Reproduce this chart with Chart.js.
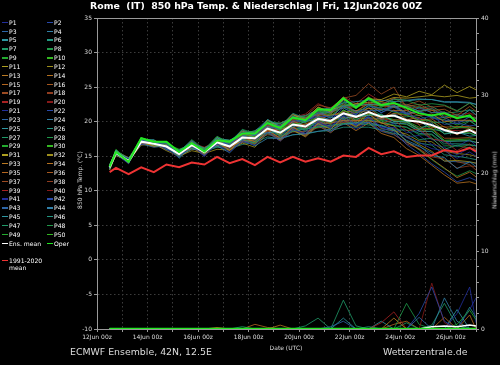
<!DOCTYPE html>
<html><head><meta charset="utf-8">
<script src="https://cdn.jsdelivr.net/npm/chart.js@4.4.1/dist/chart.umd.min.js"></script>
<style>
html,body{margin:0;padding:0;background:#000;}
#wrap{position:relative;width:500px;height:365px;overflow:hidden;background:#000;font-family:"DejaVu Sans",sans-serif;color:#fff;}
canvas{position:absolute;left:0;top:0;}
.t{position:absolute;white-space:pre;}
.lg{position:absolute;font-size:6.1px;line-height:7px;color:#fff;white-space:pre;padding-left:7px;}
.sw{position:absolute;left:0;top:3px;width:6px;height:1.4px;}
.rot{position:absolute;white-space:pre;transform:translate(-50%,-50%) rotate(-90deg);font-size:6px;color:#ddd;}
</style></head>
<body><div id="wrap">
<canvas id="c" width="500" height="365"></canvas>
<div class="t" style="left:0;top:0px;width:512px;text-align:center;font-weight:bold;font-size:9.4px;color:#fff;">Rome  (IT)  850 hPa Temp. &amp; Niederschlag | Fri, 12Jun2026 00Z</div>
<div class="rot" style="left:79px;top:180px;">850 hPa Temp. (°C)</div>
<div class="rot" style="left:494px;top:180px;">Niederschlag (mm)</div>
<div class="t" style="left:286px;top:347px;transform:translate(-50%,-50%);font-size:6px;color:#ddd;">Date (UTC)</div>
<div class="t" style="left:70px;top:346px;font-size:9.4px;color:#ddd;">ECMWF Ensemble, 42N, 12.5E</div>
<div class="t" style="left:383px;top:346px;font-size:9.4px;color:#ddd;">Wetterzentrale.de</div>
<div id="legend"></div>
</div>
<script>
// ---- time axis (hours after 12Jun2026 00Z) ----
const TIMES = [12,18,30,42,54,66,78,90,102,114,126,138,150,162,174,186,198,210,222,234,246,258,270,282,294,306,318,330,342,354,360];

// ---- 850 hPa temperature (°C) ----
const MEAN = [13.4,15.5,14.3,17.1,16.8,16.4,15.3,16.6,15.6,17.0,16.4,17.7,17.6,19.0,18.4,19.6,19.3,20.4,20.1,21.2,20.7,21.4,20.7,20.9,20.2,20.0,19.5,18.8,18.3,18.8,18.3];
const OPER = [13.5,15.6,14.2,17.6,17.1,17.1,15.6,16.9,15.7,17.3,17.1,18.3,18.3,19.8,19.1,20.6,20.2,21.8,21.7,23.4,22.0,23.4,22.4,22.7,22.0,21.2,20.9,21.2,20.5,20.9,20.0];
const CLIM = [12.7,13.3,12.4,13.4,12.7,13.8,13.4,14.1,13.8,14.9,14.0,14.6,13.7,14.9,14.1,14.9,14.2,14.7,14.2,15.1,14.9,16.2,15.3,15.7,14.9,15.1,15.1,15.9,15.6,16.2,15.7];

const P1 = [13.6,15.4,14.6,16.7,17.0,16.1,14.8,16.7,15.0,16.8,15.6,17.2,16.6,18.4,17.2,18.8,18.3,19.9,19.2,20.8,19.6,20.6,19.2,19.1,17.7,17.0,16.1,15.8,14.7,15.6,15.0];
const P2 = [13.3,15.7,14.1,17.4,16.8,16.8,15.5,16.3,15.9,17.5,16.6,18.5,18.0,19.6,19.4,20.1,20.2,20.7,20.8,21.0,21.1,22.3,21.9,21.5,21.2,20.4,20.8,19.6,19.8,19.4,19.5];
const P3 = [13.7,15.3,14.4,17.6,17.1,16.2,15.7,17.2,15.8,16.7,16.9,17.9,18.5,19.3,18.9,20.8,19.9,21.3,20.5,22.3,21.5,21.6,21.6,22.4,21.3,22.0,21.3,21.4,20.5,21.7,21.0];
const P4 = [13.2,15.6,14.7,16.8,16.3,16.5,15.1,16.0,15.9,16.5,15.5,17.3,16.5,17.6,17.6,18.1,18.3,18.6,18.9,19.6,19.8,19.9,19.4,18.7,17.3,16.5,15.1,14.8,13.2,14.2,13.5];
const P5 = [13.5,15.9,14.0,17.3,17.4,16.0,15.8,16.9,15.4,17.7,16.5,17.4,18.1,18.4,18.6,19.2,20.1,20.2,20.6,20.5,20.8,20.9,21.1,20.0,20.0,18.9,19.8,18.2,18.5,17.9,18.0];
const P6 = [13.1,15.5,14.5,17.0,17.1,16.9,14.9,16.8,16.2,17.0,17.1,18.8,18.1,20.3,19.3,21.2,20.5,21.2,21.6,22.2,22.4,22.5,22.5,22.2,22.3,21.5,21.9,20.7,21.0,20.6,20.5];
const P7 = [13.8,15.2,14.3,17.4,16.6,16.6,15.9,16.2,15.7,16.4,16.7,17.5,16.9,19.1,17.9,18.6,19.0,19.2,19.5,19.7,19.9,19.5,19.5,18.8,18.8,17.4,17.6,16.0,16.6,16.6,16.5];
const P8 = [13.4,15.8,14.7,17.2,17.3,16.4,15.6,17.4,16.0,17.9,16.9,18.9,18.3,20.0,19.8,20.5,20.8,21.5,21.9,22.4,22.3,23.4,22.2,23.2,23.1,22.4,22.6,22.4,21.6,22.7,22.0];
const P9 = [13.6,16.0,14.2,17.5,16.9,17.0,15.3,17.1,15.8,17.8,16.8,18.3,18.6,19.7,18.7,20.5,19.8,21.6,20.9,22.2,21.3,22.3,22.0,21.4,21.0,20.2,20.1,18.8,19.2,19.1,19.0];
const P10 = [13.3,15.6,14.6,17.7,17.0,16.8,16.0,16.7,16.1,17.3,17.3,18.1,17.8,19.8,18.9,19.6,19.9,20.7,19.9,21.7,20.7,21.0,21.0,20.1,19.9,18.8,18.9,17.3,17.4,17.5,17.5];
const P11 = [13.7,15.5,14.1,17.3,16.5,16.7,15.4,16.4,16.0,17.0,17.0,18.6,18.0,20.2,19.2,21.0,20.3,22.1,21.4,23.2,22.3,23.3,23.2,24.0,23.6,24.4,23.9,25.3,24.2,25.1,24.6];
const P12 = [13.0,15.3,14.4,16.6,16.8,15.8,15.0,15.8,15.4,16.0,15.9,16.9,16.3,18.4,17.3,18.7,17.9,19.7,18.9,20.7,19.7,21.1,19.8,19.4,17.8,16.7,15.7,14.3,14.4,14.2,14.0];
const P13 = [13.5,15.1,14.5,16.9,17.2,16.3,15.6,16.1,15.6,16.7,16.6,17.1,17.4,19.3,18.0,20.1,19.2,20.8,20.9,21.4,21.6,21.9,21.8,21.6,21.6,20.9,21.1,20.0,20.2,20.2,20.0];
const P14 = [13.2,15.8,14.2,17.1,16.4,16.6,15.2,17.0,15.3,17.2,15.8,17.8,17.1,18.8,17.6,19.2,18.2,19.8,19.8,20.2,20.2,20.1,19.9,18.9,17.1,16.0,14.6,13.3,11.9,12.7,12.0];
const P15 = [13.4,15.7,14.8,16.8,17.1,17.1,15.5,16.6,16.0,16.6,16.7,18.4,17.7,18.7,19.0,19.1,19.7,20.2,21.0,21.1,21.3,21.6,20.4,21.7,20.3,20.6,19.1,19.3,18.1,19.1,18.5];
const P16 = [13.1,15.4,14.6,17.3,16.6,16.4,15.8,16.9,15.5,17.6,16.6,18.1,18.5,19.5,19.5,20.3,20.6,21.0,21.1,22.6,21.5,22.6,22.4,22.2,22.2,22.5,21.6,21.8,20.9,22.2,21.5];
const P17 = [13.6,15.6,14.0,17.2,16.6,16.7,14.9,16.5,15.8,16.5,16.4,17.3,17.9,19.5,19.0,20.6,20.8,22.4,22.0,23.4,23.8,25.5,24.0,25.0,22.0,19.5,17.6,16.0,14.2,13.8,13.0];
const P18 = [13.3,15.2,14.3,17.5,16.9,16.1,15.5,17.2,15.4,17.4,16.0,17.8,17.0,18.8,17.5,19.2,18.1,19.9,19.3,19.9,20.1,20.4,20.4,20.2,20.4,19.6,20.0,18.8,19.1,19.1,19.0];
const P19 = [13.7,15.9,14.4,17.0,17.3,16.6,15.1,16.9,16.3,17.1,16.9,17.5,17.9,19.6,18.4,20.0,19.0,20.6,19.6,21.3,20.0,21.2,19.7,20.3,18.7,18.9,17.5,17.2,15.8,16.8,16.0];
const P20 = [13.2,15.5,14.5,16.7,16.7,16.8,15.4,16.3,15.9,17.0,16.2,18.2,17.7,18.6,18.7,20.2,19.5,21.3,20.5,22.4,21.4,22.9,21.7,22.8,21.6,22.3,21.3,21.4,20.5,21.3,20.5];
const P21 = [13.5,15.3,13.9,17.4,16.8,15.9,15.6,16.4,15.0,17.2,16.1,17.0,17.4,18.5,17.5,19.0,18.0,19.5,18.5,20.1,18.9,20.0,18.7,19.2,17.8,18.0,16.7,16.3,15.2,16.2,15.5];
const P22 = [13.1,15.7,14.3,16.9,17.1,16.3,15.7,16.8,15.2,17.5,16.5,18.0,17.3,19.2,17.9,19.6,18.6,20.1,19.2,20.8,19.5,20.8,19.1,18.5,16.7,15.4,13.9,12.7,11.3,11.9,11.5];
const P23 = [13.6,15.5,14.7,17.0,17.0,16.9,15.3,17.0,15.7,17.7,16.7,18.6,18.1,19.2,19.2,20.0,20.3,21.0,21.4,22.0,21.0,22.4,21.3,22.3,21.1,21.6,20.7,20.6,19.7,20.7,20.0];
const P24 = [13.3,15.1,14.4,17.4,16.5,16.4,14.8,16.7,15.9,16.6,16.4,17.4,18.0,18.9,18.9,19.4,19.6,19.8,20.2,20.8,20.9,20.6,20.4,19.8,19.7,18.6,18.6,17.1,17.2,17.2,17.0];
const P25 = [13.8,15.6,14.2,17.6,17.0,16.5,15.9,16.9,15.6,17.6,17.3,18.2,18.7,19.8,19.7,20.6,20.9,21.7,22.0,22.7,22.9,23.1,23.1,22.9,23.0,23.2,23.2,22.8,22.8,22.7,22.5];
const P26 = [13.4,15.8,14.5,16.7,16.6,16.6,14.7,16.4,15.7,16.3,16.1,16.7,17.0,17.8,17.5,18.1,18.2,18.6,18.7,19.2,19.2,19.2,18.8,18.3,17.9,16.9,16.6,15.2,15.0,14.7,14.5];
const P27 = [13.2,15.4,14.0,17.2,17.2,16.2,15.4,16.2,15.8,16.9,16.8,17.7,17.2,19.3,18.2,20.2,19.4,20.7,19.8,21.7,20.7,22.1,20.9,20.7,20.7,20.9,19.9,19.9,19.0,20.1,19.5];
const P28 = [13.7,15.7,14.1,17.1,16.9,16.0,15.2,17.1,15.3,17.3,15.9,17.5,17.8,18.3,18.1,18.7,18.9,19.3,19.4,19.8,19.8,20.2,20.1,19.4,19.2,18.1,18.1,16.5,16.5,16.2,16.0];
const P29 = [13.3,15.9,14.6,17.3,16.7,16.7,15.7,16.6,16.1,17.3,17.0,17.9,18.3,20.0,19.0,20.8,20.1,21.8,21.1,22.8,21.9,23.2,22.1,22.9,21.7,22.2,21.3,21.3,20.4,21.7,21.0];
const P30 = [13.5,15.3,14.3,17.4,16.8,16.6,15.0,16.8,15.5,17.1,16.2,18.0,17.1,19.0,18.1,19.8,18.7,20.3,19.7,21.2,20.0,21.2,20.8,20.3,20.1,19.2,19.3,18.3,18.4,18.4,18.0];
const P31 = [13.6,15.4,14.4,17.1,17.1,16.3,15.5,17.1,15.7,17.3,17.1,18.1,17.8,19.8,18.9,20.7,20.0,21.7,21.7,22.3,22.6,22.8,22.9,23.5,23.4,23.6,23.8,23.6,23.8,23.4,23.5];
const P32 = [13.1,15.6,14.1,16.8,17.0,16.5,14.9,16.1,15.6,16.6,16.3,17.1,16.7,18.6,17.4,18.9,18.0,19.5,18.6,20.2,19.3,20.5,19.0,18.7,18.2,17.2,17.1,15.7,15.4,15.2,15.0];
const P33 = [13.4,15.2,14.6,17.5,16.7,16.7,15.3,17.0,15.8,17.0,16.9,17.8,18.2,19.3,19.3,20.0,20.4,21.1,21.4,22.0,22.2,22.5,22.3,22.1,22.2,21.5,21.7,20.5,20.8,20.7,20.5];
const P34 = [13.6,15.5,14.2,16.9,16.8,16.1,15.4,16.3,15.1,16.9,15.8,17.4,16.8,18.5,17.2,18.8,17.8,19.4,18.4,19.9,18.7,19.8,18.3,17.7,16.1,15.1,13.7,12.3,11.1,11.3,11.0];
const P35 = [13.3,15.7,14.4,17.6,17.1,16.4,15.6,16.7,16.2,17.2,16.4,18.2,17.9,19.7,18.6,20.2,19.3,20.9,19.9,21.6,20.8,22.0,20.6,21.2,20.9,20.2,20.4,19.2,19.3,19.3,19.0];
const P36 = [13.7,15.1,14.3,17.0,17.0,16.2,15.7,16.5,15.6,17.4,16.2,17.2,17.6,18.7,18.8,19.4,19.6,20.0,20.3,20.6,20.6,20.9,20.7,20.1,19.9,19.0,19.0,17.6,17.6,17.7,17.5];
const P37 = [13.2,15.8,14.5,17.2,17.2,16.9,15.5,17.2,15.9,17.8,16.8,18.7,18.2,20.2,19.2,21.1,20.4,22.1,21.4,23.2,22.1,23.6,22.4,23.4,22.4,23.0,22.1,22.3,21.5,22.7,22.0];
const P38 = [13.5,15.5,14.6,16.9,16.4,16.4,15.1,16.8,15.2,17.0,16.0,17.0,17.4,18.1,17.9,18.5,18.6,19.1,19.3,20.1,19.2,20.2,18.7,18.2,16.8,16.1,14.9,14.6,13.3,13.6,13.5];
const P39 = [13.0,15.3,14.3,17.3,16.5,16.7,15.4,16.4,16.0,16.7,16.6,18.3,18.6,19.7,19.8,20.6,21.1,22.6,21.8,23.6,22.6,24.0,22.9,22.4,21.2,20.4,20.1,18.8,18.7,18.6,18.5];
const P40 = [13.6,15.8,14.0,17.1,16.9,16.1,15.5,16.9,15.5,17.5,16.4,18.0,18.4,19.4,19.4,20.2,20.6,21.3,21.6,22.3,22.4,22.7,22.6,22.5,22.4,21.8,22.0,20.9,21.1,21.2,21.0];
const P41 = [13.5,15.7,14.7,16.8,17.1,16.4,15.0,16.9,15.6,16.8,16.5,17.3,17.6,18.4,18.2,18.8,18.9,19.4,19.6,20.3,19.5,20.7,19.2,19.8,18.4,18.7,17.4,17.2,16.4,17.4,16.5];
const P42 = [13.2,15.4,14.4,17.4,16.8,16.8,15.3,16.5,15.8,17.6,16.6,17.7,18.1,19.2,19.1,19.9,20.2,20.9,20.2,22.0,21.1,22.4,21.3,22.1,21.0,21.5,20.5,20.2,20.1,20.1,20.0];
const P43 = [13.4,15.2,14.1,17.3,16.6,16.3,15.6,16.3,15.4,17.1,16.0,17.5,17.0,18.7,17.6,19.1,18.3,19.8,19.0,20.4,19.4,19.8,18.6,18.1,17.0,16.4,15.5,14.3,14.2,14.1,14.0];
const P44 = [13.7,15.6,14.5,17.5,17.3,16.5,15.6,17.3,15.8,17.5,17.3,18.3,18.6,20.3,19.3,21.0,20.5,22.0,21.2,23.0,22.2,23.4,22.5,23.3,23.1,23.3,23.2,22.9,22.9,22.8,22.5];
const P45 = [13.1,15.5,14.2,16.9,17.0,16.6,15.2,16.7,15.3,17.3,16.3,17.9,17.4,19.4,18.4,19.9,18.9,20.5,19.8,21.4,20.2,21.4,20.3,21.2,20.0,20.1,18.9,18.6,18.3,18.3,18.0];
const P46 = [13.6,15.8,14.3,17.2,16.5,16.7,15.4,16.6,15.9,16.8,16.7,17.4,17.8,18.6,18.5,19.0,19.2,19.6,19.8,20.2,20.1,20.2,19.9,19.5,19.2,18.3,18.2,16.8,16.8,16.7,16.5];
const P47 = [13.3,15.6,14.6,17.1,17.1,16.9,15.7,16.8,16.1,17.4,17.1,18.2,18.5,19.6,19.5,20.4,20.6,21.4,21.6,22.4,22.5,22.8,22.7,22.6,22.5,22.0,22.2,21.2,21.4,21.7,21.5];
const P48 = [13.6,15.4,14.0,17.4,16.9,16.2,15.3,16.9,15.2,17.0,16.1,17.1,17.2,18.2,17.8,18.6,18.6,19.2,19.2,19.7,19.6,19.7,19.4,18.9,17.2,15.9,14.5,13.2,12.1,12.9,12.5];
const P49 = [13.4,15.9,14.5,17.0,17.0,16.2,15.5,17.0,15.7,17.2,16.9,18.0,18.2,19.4,19.2,20.1,20.0,21.4,20.7,22.3,21.5,22.6,21.6,22.2,21.2,21.4,20.6,20.3,19.5,20.2,19.5];
const P50 = [13.2,15.6,14.3,17.3,16.6,16.4,15.0,16.8,15.6,16.7,16.6,17.3,17.7,18.5,18.4,18.9,19.1,19.9,20.1,20.4,20.4,20.5,20.2,19.8,19.6,18.6,18.6,17.2,17.2,17.3,17.0];

// ---- precipitation (mm), members with rain ----
const R2  = [0,0,0,0,0,0,0,0,0,0, 0,0,0,0,0,0,0,0,0,0, 0,0,0,0,0,2.0,5.4,1.0,0,0, 0];
const R3  = [0,0,0,0,0,0,0,0,0,0, 0,0,0,0,0,0,0,0,0.3,1.0, 0,0,0,0,0,1.5,0,0,0,0, 0];
const R7  = [0,0,0,0,0,0,0,0,0,0, 0,0.3,0,0,0,0,0,0,0,3.7, 0.4,0,0,0,0,0,0,0,0,0, 0];
const R9  = [0,0,0,0,0,0,0,0,0,0, 0,0,0,0,0,0,0,0,0,0, 0,0,0,0,0,0,0,0,0.6,2.4, 1.2];
const R13 = [0,0,0,0,0,0,0,0,0,0.2, 0,0,0,0,0,0,0,0,0,0, 0,0,0,1.4,0,0,0,0,0,0, 0];
const R14 = [0,0,0,0,0,0,0,0,0,0, 0,0,0,0,0.5,0,0,0,0,0, 0,0,0,0,0,0,0,0,0,0, 0];
const R15 = [0,0,0,0,0,0,0,0,0,0, 0,0,0.6,0.2,0,0,0,0,0,0, 0,0,0,0,0,0,0,1.5,0,0, 0];
const R19 = [0,0,0,0,0,0,0,0,0,0, 0,0,0,0,0,0,0,0,0,0, 0,0,0.8,2.2,0,0,0,0,0,0, 0];
const R20 = [0,0,0,0,0,0,0,0,0,0, 0,0,0,0,0,0,0,0,0,0, 0,0,0,0,0,0,5.9,0.8,0,0, 0];
const R21 = [0,0,0,0,0,0,0,0,0,0, 0,0,0,0,0,0,0,0,0,0, 0,0,0,0,0,0,0,0,2.0,5.4, 0.8];
const R25 = [0,0,0,0,0,0,0,0,0,0, 0,0,0,0,0,0,0,0,0,1.4, 0,0,1.0,0,0,0,0,0,2.5,0, 0];
const R27 = [0,0,0,0,0,0,0,0,0,0, 0,0,0,0,0,0,0.4,1.4,0,0, 0,0,0,0,0.8,0,0,0,0,0, 0];
const R28 = [0,0,0,0,0,0,0,0,0,0, 0,0,0,0,0,0,0,0,0,0, 0,0,0,0,3.3,0.6,0,0,0,0, 0];
const R35 = [0,0,0,0,0,0,0,0,0,0, 0,0,0,0,0,0,0,0,0,0, 0,0,0,0.6,1.0,0,0,0,0,1.8, 0];
const R41 = [0,0,0,0,0,0,0,0,0,0, 0,0,0,0,0,0,0,0,0,0, 0,0,0,0,0,0,0,0,0,2.5, 4.0];
const R44 = [0,0,0,0,0,0,0,0,0,0, 0,0,0,0,0,0,0,0,0,0, 0,0,0,0,0,0,0,4.0,1.0,0, 0];
const R46 = [0,0,0,0,0,0,0,0,0,0, 0,0,0,0,0,0,0,0,0,0, 0,0.3,0,0,0,0,0,0,0,2.8, 1.5];
const R47 = [0,0,0,0,0,0,0,0,0,0, 0,0,0,0,0,0,0,0,0,0, 0,0,0,0,0,0,0.5,3.3,0.4,0, 0];
const RMEAN = [0,0,0,0,0,0,0,0,0,0, 0,0,0,0,0,0,0,0,0,0, 0,0,0,0,0,0,0.3,0.4,0.3,0.5, 0.4];
const ROPER = [0,0,0,0,0,0,0,0,0,0, 0,0,0,0,0,0,0,0,0,0, 0,0,0,0,0,0,0,0,0,0, 0];

// ---- axis ticks ----
const X_TICK_HOURS = 24;
const X_LABEL_EVERY = 48;
const START_DAY = 12;
const MONTH = 'Jun';

const MEMBERS = [P1,P2,P3,P4,P5,P6,P7,P8,P9,P10,P11,P12,P13,P14,P15,P16,P17,P18,P19,P20,
                 P21,P22,P23,P24,P25,P26,P27,P28,P29,P30,P31,P32,P33,P34,P35,P36,P37,P38,P39,P40,
                 P41,P42,P43,P44,P45,P46,P47,P48,P49,P50];
const RAIN = {2:R2,3:R3,7:R7,9:R9,13:R13,14:R14,15:R15,19:R19,20:R20,21:R21,25:R25,27:R27,28:R28,35:R35,41:R41,44:R44,46:R46,47:R47};

const PAL = ['#222e9c','#2849aa','#2d66a8','#3180a8','#2e97a2','#229782','#1f9a68','#209a4a','#22ab2e','#34b822',
             '#aea020','#9e8f1c','#bb7a22','#b6711f','#b5661f','#a6581f','#9c4b22','#903c1f','#a82222','#861919'];
const colorOf = n => PAL[(n-1) % 20];
const OPER_COLOR = '#22e622';
const CLIM_COLOR = '#ee3333';

const pts = arr => TIMES.map((t,i) => ({x:t, y:arr[i]}));

const datasets = [];
MEMBERS.forEach((arr,i) => {
  datasets.push({label:'P'+(i+1), data:pts(arr), yAxisID:'y', borderColor:colorOf(i+1), borderWidth:0.8, order:10});
});
Object.keys(RAIN).forEach(k => {
  datasets.push({label:'P'+k+' rr', data:pts(RAIN[k]), yAxisID:'y2', borderColor:colorOf(+k), borderWidth:0.8, order:9});
});
datasets.push({label:'Ens. mean rr', data:pts(RMEAN), yAxisID:'y2', borderColor:'#ffffff', borderWidth:1.5, order:3});
datasets.push({label:'Oper rr', data:pts(ROPER), yAxisID:'y2', borderColor:OPER_COLOR, borderWidth:2.5, order:2});
datasets.push({label:'Ens. mean', data:pts(MEAN), yAxisID:'y', borderColor:'#ffffff', borderWidth:2, order:3});
datasets.push({label:'Oper', data:pts(OPER), yAxisID:'y', borderColor:OPER_COLOR, borderWidth:2, order:2});
datasets.push({label:'1991-2020 mean', data:pts(CLIM), yAxisID:'y', borderColor:CLIM_COLOR, borderWidth:2, order:1});
datasets.forEach(d => { d.pointRadius = 0; d.tension = 0; d.fill = false; });

const frame = {
  id:'frame',
  beforeDatasetsDraw(chart){
    const a = chart.chartArea, c = chart.ctx;
    c.save(); c.strokeStyle = '#9a9a9a'; c.lineWidth = 1;
    c.beginPath(); c.moveTo(a.left, a.top + 0.5); c.lineTo(a.right, a.top + 0.5); c.stroke();
    c.restore();
  }
};

const tickFont = {family:'DejaVu Sans', size:6};
const gridCol = '#3c3c3c';

new Chart(document.getElementById('c'), {
  type:'line',
  data:{datasets},
  plugins:[frame],
  options:{
    responsive:false, animation:false, devicePixelRatio:1,
    layout:{padding:{top:18, left:0, right:0, bottom:0}},
    plugins:{legend:{display:false}, tooltip:{enabled:false}, title:{display:false}},
    scales:{
      x:{type:'linear', min:0, max:360,
        ticks:{stepSize:X_TICK_HOURS, autoSkip:false, maxRotation:0, color:'#dddddd', font:tickFont, padding:2,
          callback:v => (v % X_LABEL_EVERY === 0 && v < 360) ? (START_DAY + v/24) + MONTH + ' 00z' : ''},
        grid:{color:gridCol, tickColor:'#9a9a9a', tickLength:3, lineWidth:1},
        border:{color:'#9a9a9a', width:1, dash:[1.5,2.5]},
        afterFit:s => { s.height = 36; }
      },
      y:{position:'left', min:-10, max:35,
        ticks:{stepSize:5, color:'#dddddd', font:tickFont, padding:2},
        grid:{color:gridCol, tickColor:'#9a9a9a', tickLength:3},
        border:{color:'#9a9a9a', width:1, dash:[1.5,2.5]},
        afterFit:s => { s.width = 97; }
      },
      y2:{position:'right', min:0, max:40,
        ticks:{stepSize:2, autoSkip:false, color:'#dddddd', font:tickFont, padding:2,
          callback:v => (v % 10 === 0) ? v : ''},
        grid:{drawOnChartArea:false, tickColor:'#9a9a9a', tickLength:3},
        border:{color:'#9a9a9a', width:1},
        afterFit:s => { s.width = 24; }
      }
    }
  }
});

// ---- legend (HTML) ----
const lg = document.getElementById('legend');
function addItem(x, y, text, color){
  const d = document.createElement('div');
  d.className = 'lg';
  d.style.left = x + 'px';
  d.style.top = (y - 3.5) + 'px';
  const s = document.createElement('span');
  s.className = 'sw'; s.style.background = color;
  d.appendChild(s);
  d.appendChild(document.createTextNode(text));
  lg.appendChild(d);
}
const ROW0 = 22.3, ROWH = 8.83;
for (let k = 0; k < 25; k++) {
  addItem(2, ROW0 + ROWH*k, 'P' + (2*k+1), colorOf(2*k+1));
  addItem(47, ROW0 + ROWH*k, 'P' + (2*k+2), colorOf(2*k+2));
}
addItem(2, ROW0 + ROWH*25, 'Ens. mean', '#ffffff');
addItem(47, ROW0 + ROWH*25, 'Oper', OPER_COLOR);
addItem(2, 260, '1991-2020\nmean', CLIM_COLOR);
</script>
</body></html>
